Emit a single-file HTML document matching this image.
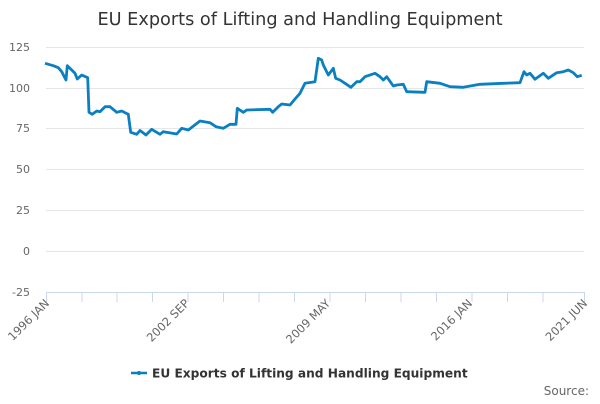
<!DOCTYPE html>
<html><head><meta charset="utf-8"><style>
body{margin:0;background:#fff;width:600px;height:400px;overflow:hidden;font-family:"DejaVu Sans","Liberation Sans",sans-serif}
</style></head><body>
<svg width="600" height="400" xmlns="http://www.w3.org/2000/svg" font-family="DejaVu Sans, Liberation Sans, sans-serif">
<text x="300" y="25" text-anchor="middle" font-size="17.7" fill="#333">EU Exports of Lifting and Handling Equipment</text>
<g stroke="#e6e6e6" stroke-width="1">
<line x1="46" x2="584" y1="47.5" y2="47.5"/><line x1="46" x2="584" y1="88.5" y2="88.5"/>
<line x1="46" x2="584" y1="128.5" y2="128.5"/><line x1="46" x2="584" y1="169.5" y2="169.5"/>
<line x1="46" x2="584" y1="210.5" y2="210.5"/><line x1="46" x2="584" y1="251.5" y2="251.5"/>
</g>
<g font-size="11" fill="#666" text-anchor="end">
<text x="30" y="51">125</text><text x="30" y="92">100</text><text x="30" y="132">75</text>
<text x="30" y="173">50</text><text x="30" y="214">25</text><text x="30" y="255">0</text><text x="30" y="296">-25</text>
</g>
<line x1="46" x2="585" y1="292.5" y2="292.5" stroke="#ccd6eb"/>
<g stroke="#ccd6eb">
<path d="M46.5 292v10M82 292v10M117 292v10M152.5 292v10M188 292v10M223.5 292v10M259 292v10M294.5 292v10M330 292v10M365.5 292v10M401 292v10M436.5 292v10M472 292v10M507.5 292v10M543 292v10M584.5 292v10"/>
</g>
<g font-size="11.5" fill="#666" text-anchor="end">
<text transform="translate(50,304) rotate(-45)">1996 JAN</text>
<text transform="translate(190,304) rotate(-45)">2002 SEP</text>
<text transform="translate(331,304) rotate(-45)">2009 MAY</text>
<text transform="translate(473,304) rotate(-45)">2016 JAN</text>
<text transform="translate(588,304) rotate(-45)">2021 JUN</text>
</g>
<polyline fill="none" stroke="#0a7fc2" stroke-width="2.8" stroke-linejoin="round" points="45,63.3 53.3,65.7 58.3,67.7 61.7,71.7 66,80 67.3,65.7 71.7,70 75,73.3 77.3,79 81.7,75 87.7,77.7 89,112.3 92.3,114.3 96.7,111 100,111.7 105,106.7 110,106.7 116.7,112.3 121.7,111 128.3,114.3 130.7,132.3 136.7,134.3 140,130.5 146,135 151.7,129.3 160,134.3 163.3,131.7 176.7,134 181.7,128.3 188.3,130 200,121 210,122.7 216,126.7 223.3,128.3 230,124.3 236,124.3 237.3,108.3 243.3,112.3 246.7,110 270,109.3 272.7,112.3 278.3,106.7 281.7,104 290,105 295,99 300,93.3 305,83.3 315,81.7 318.3,58.3 321.7,60 323.3,65 328.3,75 333.3,68.3 335.7,78.3 340,80 345,83.3 351,87.3 356.7,81.7 360,81.7 365,76.7 375,73.3 380,76.7 383.3,80 386.7,76.7 393.3,86 396.7,85 403.3,84.3 406.7,91.7 425,92.3 426.7,81.7 440,83.3 450,86.7 463.3,87.3 480,84.3 503.3,83.3 520,82.7 524,71.7 526.7,75 530,73.3 535,79.3 543.3,73.3 548.3,78.3 556.7,72.7 563.3,71.7 568.3,70 573.3,72.7 577.3,76.7 581.7,75.3"/>
<line x1="131" x2="147" y1="373" y2="373" stroke="#0a7fc2" stroke-width="2.5"/>
<circle cx="139" cy="373" r="2" fill="#0a7fc2"/>
<text x="152" y="377.5" font-size="12.2" font-weight="bold" fill="#333">EU Exports of Lifting and Handling Equipment</text>
<text x="589" y="395" font-size="12" fill="#666" text-anchor="end">Source:</text>
</svg>
</body></html>
